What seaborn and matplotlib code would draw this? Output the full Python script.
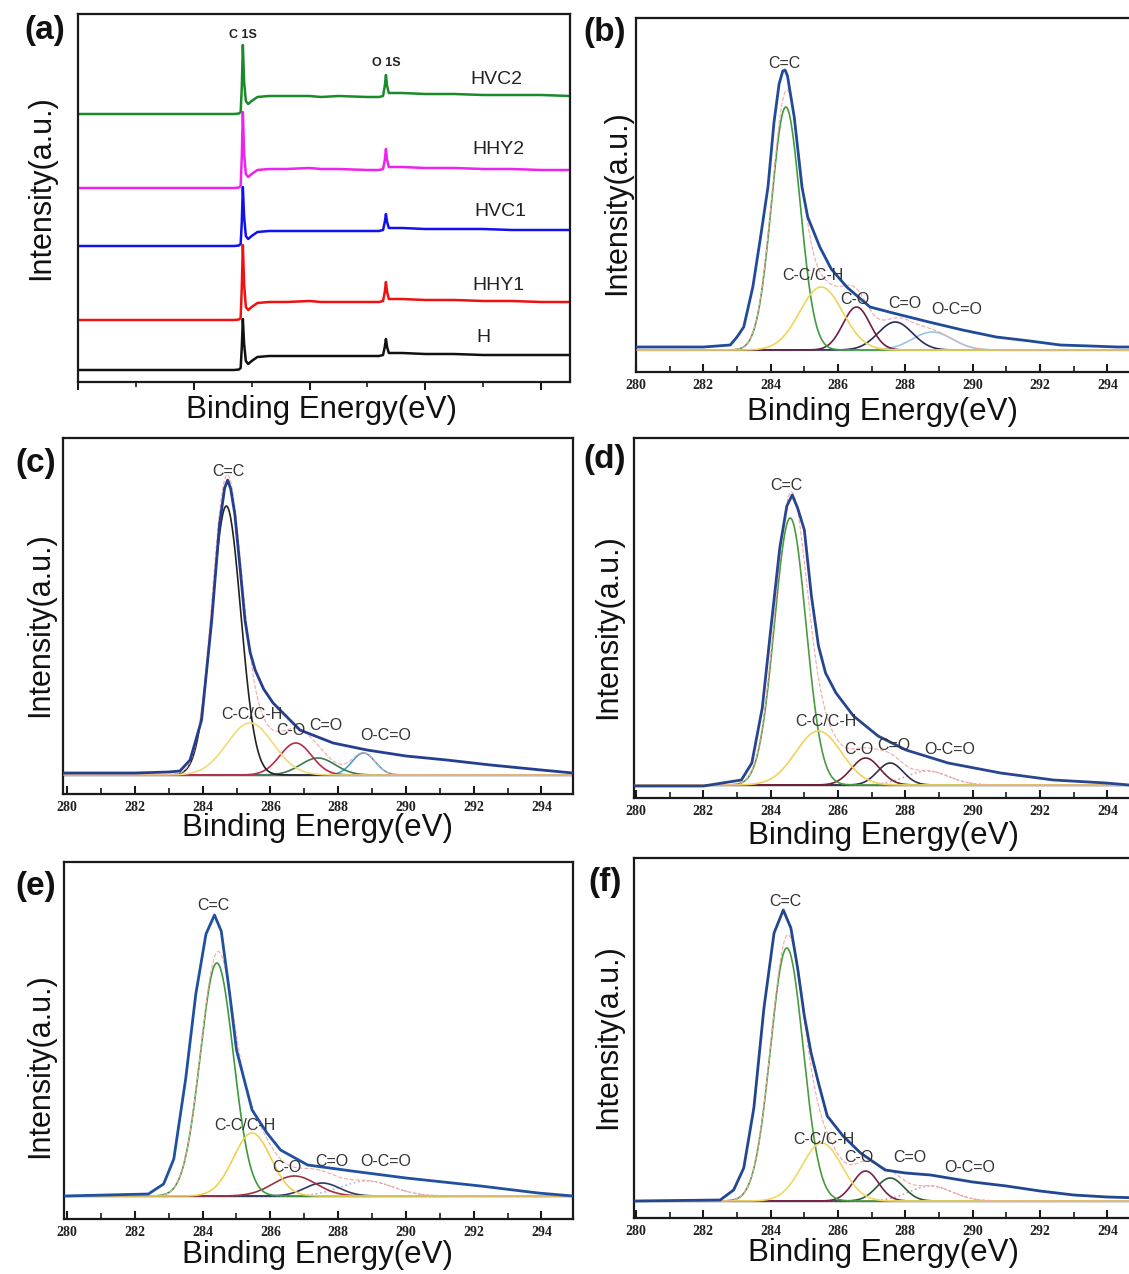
import numpy as np
import matplotlib
matplotlib.use("Agg")
import matplotlib.pyplot as plt
import seaborn as sns
from matplotlib.ticker import MultipleLocator

sns.set_theme(style="white")
plt.rcParams["font.family"] = ["Liberation Sans", "DejaVu Sans"]

W, H = 1129, 1274

# ---------------- (a) survey spectra (px above frame bottom)
survey_be = [0, 270, 278, 281, 283, 284.8, 287, 290, 294, 300, 310, 330, 360, 400, 420,
             450, 500, 520, 527, 530, 532, 534, 537, 545, 560, 600, 650, 700, 750, 800, 850]
survey_H = [12, 12, 12.5, 14, 35, 63, 38, 21, 18, 21, 25, 26, 26, 26, 26,
            26, 26, 26, 27, 35, 43, 35, 29, 29, 29, 28, 28, 27, 27, 27, 27]
survey_HHY1 = [62, 62, 62.5, 64, 95, 137, 98, 75, 72, 75, 79, 80, 80, 81, 80,
               80, 80, 80, 81, 90, 100, 90, 83, 83, 83, 82, 82, 81, 81, 80, 80]
survey_HVC1 = [136, 136, 136.5, 138, 160, 195, 165, 146, 143, 146, 150, 151, 151, 151, 151,
               151, 151, 151, 152, 160, 168, 160, 154, 154, 154, 153, 153, 153, 152, 152, 152]
survey_HHY2 = [194, 194, 194.5, 196, 225, 270, 228, 208, 205, 208, 212, 213, 213, 214, 213,
               213, 212, 212, 213, 222, 233, 222, 215, 215, 215, 214, 214, 213, 213, 212, 212]
survey_HVC2 = [268, 268, 268.5, 270, 295, 337, 300, 281, 278, 281, 285, 286, 286, 286, 285,
               286, 285, 285, 286, 296, 307, 296, 289, 289, 289, 288, 288, 287, 287, 287, 286]
survey_names = ["H", "HHY1", "HVC1", "HHY2", "HVC2"]
survey_series = [survey_H, survey_HHY1, survey_HVC1, survey_HHY2, survey_HVC2]
survey_colors = ["#111111", "#ee1111", "#1111ee", "#ee22ee", "#1a8a2a"]
survey_label_x = [700, 726, 729, 726, 723]
survey_label_y = [45, 97, 171, 232, 302]
survey_peak_names = ["C 1S", "O 1S"]
survey_peak_x = [284.8, 532]
survey_peak_y = [347, 319]

# ---------------- C1s high-resolution panels
comp_names = ["C=C", "C-C/C-H", "C-O", "C=O", "O-C=O"]

b_env_x = [280, 282, 282.8, 283.0, 283.2, 283.47, 283.7, 283.92, 284.1, 284.25, 284.36, 284.43, 284.5,
           284.7, 284.93, 285.1, 285.46, 285.8, 286.26, 286.95, 287.75, 288.7, 289.7, 290.7, 291.7,
           292.6, 293.5, 294.3, 295]
b_env_y = [25, 25, 27, 35, 45, 85, 135, 185, 250, 288, 301, 302, 296, 255, 185, 155, 125, 103, 85, 65,
           58, 50, 42, 35, 31, 27, 26, 25, 25]
b_centers = [284.45, 285.5, 286.55, 287.7, 288.8]
b_heights = [243, 63, 43, 28, 18]
b_fwhm = [1.0, 1.5, 0.95, 1.2, 1.4]
b_base = 22
b_label_x = [284.4, 285.26, 286.5, 287.97, 289.53]
b_label_y = [308, 97, 73, 68, 63]

c_env_x = [279.88, 282, 283.0, 283.33, 283.63, 283.97, 284.27, 284.5, 284.65, 284.74, 284.83, 284.95,
           285.1, 285.25, 285.4, 285.55, 285.8, 286.08, 286.87, 287.85, 288.85, 290, 291.2, 292.5,
           294, 294.93]
c_env_y = [21, 21, 22, 23, 34, 74, 174, 270, 306, 314, 305, 280, 228, 174, 142, 124, 105, 91, 64, 51,
           44, 38, 34, 29, 24, 21]
c_centers = [284.7, 285.4, 286.75, 287.4, 288.75]
c_heights = [269, 52, 32, 17, 22]
c_fwhm = [1.0, 1.6, 1.1, 1.2, 0.8]
c_base = 19
c_label_x = [284.75, 285.46, 286.6, 287.64, 289.39]
c_label_y = [322, 79, 63, 68, 58]

d_env_x = [279.94, 282, 283.13, 283.44, 283.75, 284.0, 284.27, 284.48, 284.64, 284.8, 285.0, 285.21,
           285.42, 285.63, 285.94, 286.46, 287.19, 288.02, 289.27, 290.83, 292.4, 293.96, 295]
d_env_y = [12, 12, 18, 35, 90, 168, 250, 292, 303, 290, 268, 202, 152, 125, 105, 82, 62, 48, 35, 25,
           18, 15, 12]
d_centers = [284.58, 285.42, 286.82, 287.55, 288.65]
d_heights = [267, 54, 27, 22, 14]
d_fwhm = [1.1, 1.6, 1.0, 0.9, 1.5]
d_base = 13
d_label_x = [284.46, 285.63, 286.61, 287.66, 289.32]
d_label_y = [312, 77, 48, 53, 48]

e_env_x = [279.91, 282.4, 282.85, 283.15, 283.5, 283.8, 284.1, 284.35, 284.55, 284.8, 285.0, 285.46,
           285.9, 286.3, 287.1, 288.4, 290.0, 291.1, 292.2, 293.9, 294.93]
e_env_y = [23, 25, 35, 60, 140, 225, 285, 304, 288, 225, 169, 109, 86, 69, 54, 48, 41, 37, 33, 26, 23]
e_centers = [284.42, 285.46, 286.71, 287.53, 288.84]
e_heights = [233, 63, 20, 13, 15]
e_fwhm = [1.15, 1.3, 1.5, 1.2, 1.8]
e_base = 23
e_label_x = [284.33, 285.24, 286.5, 287.8, 289.39]
e_label_y = [314, 93, 51, 58, 58]

f_env_x = [279.94, 282.5, 282.9, 283.2, 283.5, 283.8, 284.1, 284.375, 284.6, 284.8, 285.0, 285.2,
           285.42, 285.68, 286.15, 286.67, 287.4, 288.0, 288.75, 290.0, 291.0, 292.0, 293.0, 294.0, 295]
f_env_y = [17, 18, 28, 50, 110, 210, 285, 308, 290, 250, 202, 165, 135, 102, 82, 65, 48, 45, 43, 36,
           32, 27, 23, 21, 20]
f_centers = [284.48, 285.52, 286.82, 287.55, 288.75]
f_heights = [253, 58, 30, 23, 15]
f_fwhm = [1.14, 1.4, 0.9, 0.95, 1.5]
f_base = 17
f_label_x = [284.43, 285.57, 286.61, 288.12, 289.9]
f_label_y = [317, 78, 60, 60, 50]

# ---------------- layout (pixel frames) and styles
frames = {
    "a": (78, 570, 14, 382), "b": (636, 1141, 18, 372),
    "c": (63, 573, 438, 794), "d": (634, 1141, 438, 798),
    "e": (64, 573, 862, 1219), "f": (634, 1141, 858, 1218),
}
xlims = {"a": (0, 850), "b": (280, 295), "c": (279.88, 294.93), "d": (279.94, 295),
         "e": (279.91, 294.93), "f": (279.94, 295)}
panel_label_pos = {"a": (45, 30), "b": (605, 32), "c": (36, 464), "d": (605, 460),
                   "e": (36, 887), "f": (605, 882)}
ylabel_pos = {"a": (41, 188), "b": (617, 203), "c": (40, 625), "d": (608, 627),
              "e": (40, 1066), "f": (608, 1037)}
xlabel_pos = {"a": (322, 410), "b": (883, 412), "c": (318, 828), "d": (883, 836),
              "e": (318, 1255), "f": (883, 1253)}

comp_colors = {
    "b": ["#3f9b3f", "#f0d35a", "#6e1f40", "#2c2c58", "#9cc3ea"],
    "c": ["#222222", "#f3d97a", "#bb2a4c", "#3a7a50", "#4a9fd0"],
    "d": ["#4a9a40", "#f0d35a", "#702035", "#303050", "#d8a0b8"],
    "e": ["#3a9a3a", "#f0d050", "#a03040", "#303a60", "#b0b8e0"],
    "f": ["#4a9a40", "#f2d860", "#7a2050", "#2f5a3a", "#c8a0b0"],
}
env_colors = {"b": "#1f4b99", "c": "#243f8f", "d": "#27468f", "e": "#2050a0", "f": "#22468f"}
base_colors = {"b": "#e6c84a", "c": "#333333", "d": "#222222", "e": "#333333", "f": "#333333"}
draw_order = [4, 3, 2, 0, 1]

fig = plt.figure(figsize=(W / 100, H / 100), dpi=100)


def make_ax(key):
    x0, x1, y0, y1 = frames[key]
    ax = fig.add_axes([x0 / W, 1 - y1 / H, (x1 - x0) / W, (y1 - y0) / H])
    ax.set_facecolor("white")
    for s in ax.spines.values():
        s.set_visible(True)
        s.set_color("#1a1a1a")
        s.set_linewidth(1.6)
    ax.set_yticks([])
    ax.set_xlim(*xlims[key])
    ax.set_ylim(0, y1 - y0)
    xl = xlabel_pos[key]
    ax.set_xlabel("Binding Energy(eV)", fontsize=22.5, color="#111111")
    ax.xaxis.set_label_coords((xl[0] - x0) / (x1 - x0), (y1 - xl[1]) / (y1 - y0))
    ax.xaxis.label.set_va("center")
    yl = ylabel_pos[key]
    ax.set_ylabel("Intensity(a.u.)", fontsize=22, color="#111111")
    ax.yaxis.set_label_coords((yl[0] - x0) / (x1 - x0), (y1 - yl[1]) / (y1 - y0))
    ax.yaxis.label.set_va("center")
    px, py = panel_label_pos[key]
    fig.text(px / W, 1 - py / H, f"({key})", fontsize=24, fontweight="bold",
             ha="center", va="center", color="#111111")
    return ax


# ---- panel (a)
ax = make_ax("a")
for name, ys, col, lx, ly in zip(survey_names, survey_series, survey_colors,
                                 survey_label_x, survey_label_y):
    sns.lineplot(x=survey_be, y=ys, ax=ax, color=col, linewidth=1.8, estimator=None, sort=False)
    ax.text(lx, ly, name, fontsize=14, ha="center", va="center", color="#222222")
for name, px_, py_ in zip(survey_peak_names, survey_peak_x, survey_peak_y):
    ax.text(px_, py_, name, fontsize=9, fontweight="bold", ha="center", va="center", color="#222222")
ax.xaxis.set_major_locator(MultipleLocator(200))
ax.xaxis.set_minor_locator(MultipleLocator(100))
ax.tick_params(axis="x", which="major", direction="out", length=6, width=1.5, bottom=True,
               labelbottom=False, color="#1a1a1a")
ax.tick_params(axis="x", which="minor", direction="out", length=3.5, width=1.2, bottom=True,
               color="#1a1a1a")

# ---- C1s panels
panels = {
    "b": (b_env_x, b_env_y, b_centers, b_heights, b_fwhm, b_base, b_label_x, b_label_y),
    "c": (c_env_x, c_env_y, c_centers, c_heights, c_fwhm, c_base, c_label_x, c_label_y),
    "d": (d_env_x, d_env_y, d_centers, d_heights, d_fwhm, d_base, d_label_x, d_label_y),
    "e": (e_env_x, e_env_y, e_centers, e_heights, e_fwhm, e_base, e_label_x, e_label_y),
    "f": (f_env_x, f_env_y, f_centers, f_heights, f_fwhm, f_base, f_label_x, f_label_y),
}

for key, (ex, ey, cen, hei, fw, base, lxs, lys) in panels.items():
    ax = make_ax(key)
    grid = np.linspace(xlims[key][0], xlims[key][1], 700)
    ax.axhline(base, color=base_colors[key], linewidth=1.0, zorder=1)
    total = np.zeros_like(grid)
    for i in draw_order:
        g = hei[i] * np.exp(-4 * np.log(2) * (grid - cen[i]) ** 2 / fw[i] ** 2)
        total += g
        ls = ":" if i == 4 and key in ("d", "e", "f") else "-"
        sns.lineplot(x=grid, y=base + g, ax=ax, color=comp_colors[key][i], linewidth=1.2,
                     estimator=None, sort=False, linestyle=ls, zorder=2)
    sns.lineplot(x=grid, y=base + total, ax=ax, color="#f4a8a0", linewidth=0.8,
                 estimator=None, sort=False, linestyle="--", zorder=3)
    sns.lineplot(x=ex, y=ey, ax=ax, color=env_colors[key], linewidth=2.0,
                 estimator=None, sort=False, zorder=4)
    for name, lx, ly in zip(comp_names, lxs, lys):
        ax.text(lx, ly, name, fontsize=11.5, ha="center", va="center", color="#333333", zorder=5)
    ax.xaxis.set_major_locator(MultipleLocator(2))
    ax.xaxis.set_minor_locator(MultipleLocator(1))
    ax.tick_params(axis="x", which="major", direction="in", length=6, width=1.5, bottom=True,
                   labelsize=10, pad=5, color="#1a1a1a")
    ax.tick_params(axis="x", which="minor", direction="in", length=4, width=1.2, bottom=True,
                   color="#1a1a1a")
    ax.set_xticks(np.arange(280, 295, 2))
    ax.set_xticklabels([str(v) for v in range(280, 295, 2)])
    for t in ax.get_xticklabels():
        t.set_fontfamily(["Liberation Serif", "DejaVu Serif"])
        t.set_fontweight("bold")
        t.set_color("#222222")

fig.savefig("out.png", dpi=100, facecolor="white")
